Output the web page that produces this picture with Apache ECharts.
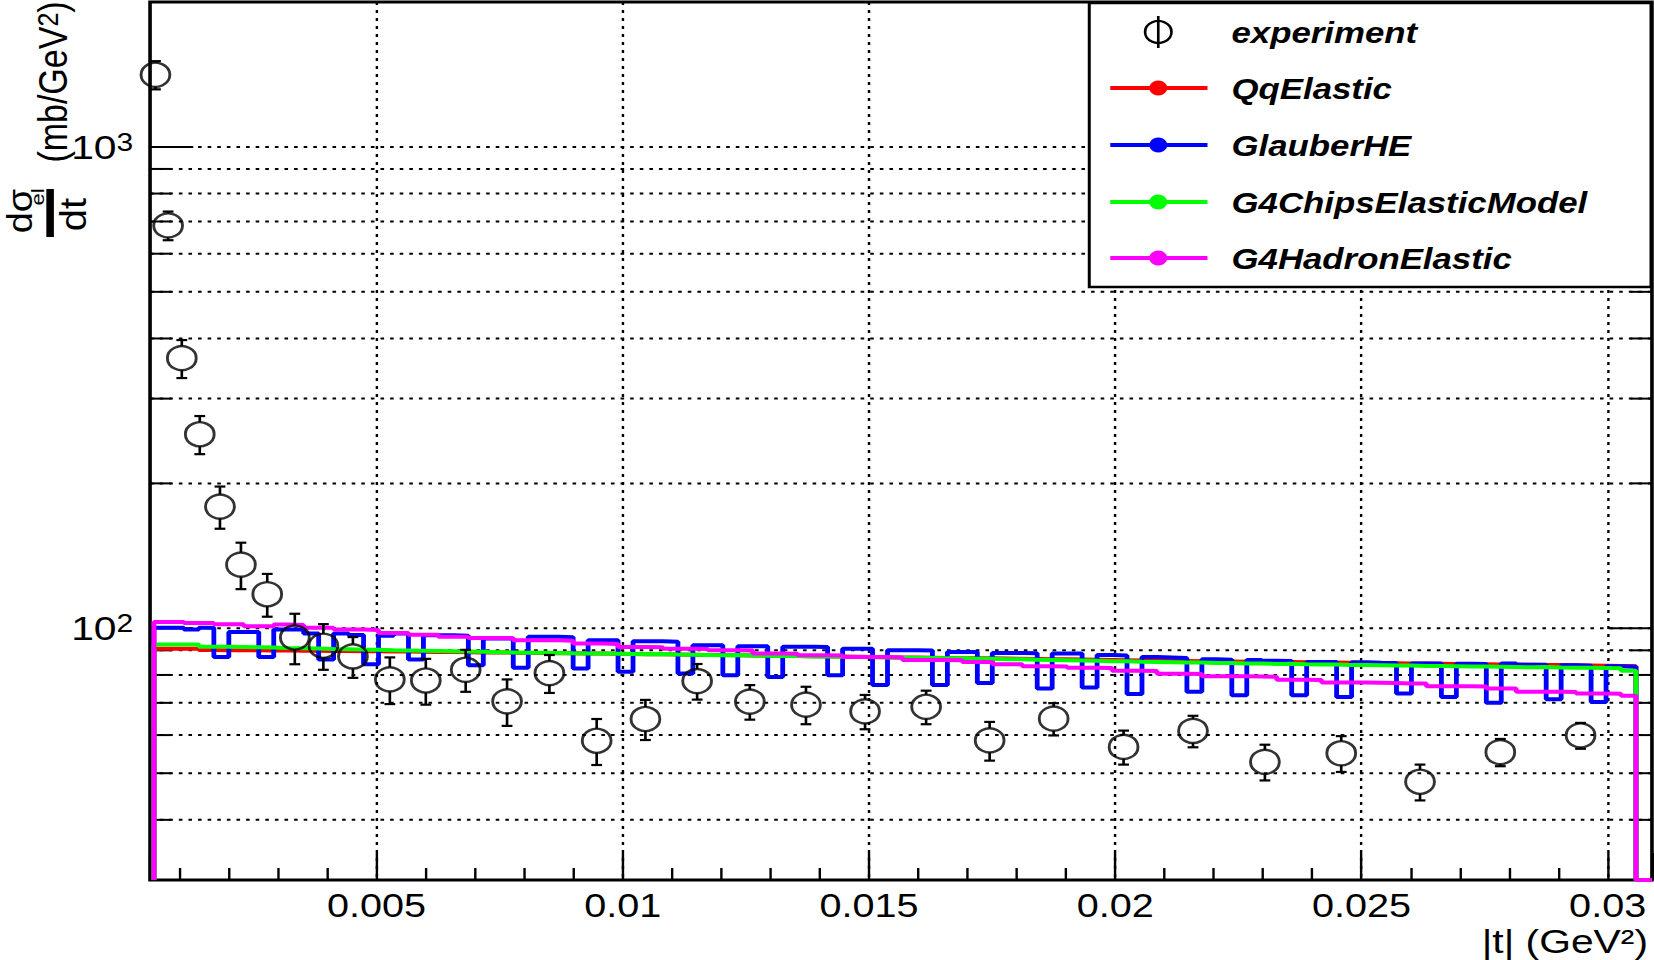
<!DOCTYPE html>
<html>
<head>
<meta charset="utf-8">
<title>Elastic differential cross section</title>
<script src="https://cdn.jsdelivr.net/npm/echarts@6/dist/echarts.min.js"></script>
<style>
  html, body { margin: 0; padding: 0; background: #fff; overflow: hidden; }
  #wrap { width: 1654px; height: 960px; overflow: hidden; }
  /* the canvas is laid out on a narrower sheet and widened, giving the wide ROOT-style glyphs */
  #chart { width: 1420px; height: 960px; transform-origin: 0 0; transform: scaleX(1.20029); }
</style>
</head>
<body>
<div id="wrap"><div id="chart"></div></div>
<script>
// ---- axis ranges ----
const X_MIN = 0.0004, X_MAX = 0.0309;
const Y_MIN = 30, Y_MAX = 2000;

// ---- measured points: |t| (GeV^2), dsigma/dt (mb/GeV^2), error ----
const expT = [0.00051, 0.000767, 0.001045, 0.00141, 0.00182, 0.002246, 0.00278, 0.00334, 0.00392, 0.00452,
              0.00527, 0.0060, 0.00681, 0.00765, 0.00851, 0.00947, 0.01046, 0.01151, 0.01258, 0.01372,
              0.01492, 0.01616, 0.01745, 0.01875, 0.02017, 0.02158, 0.02304, 0.02459, 0.02619, 0.02782, 0.02945];
const expV = [1412, 687, 364, 253, 179, 135.6, 117.7, 95.7, 92.0, 87.4,
              78.3, 77.9, 82.0, 70.5, 80.7, 58.4, 64.8, 77.7, 70.4, 69.4,
              67.2, 68.7, 58.5, 64.9, 56.7, 61.2, 52.8, 55.0, 48.0, 55.3, 59.9];
const expErr = [95, 47, 33, 23, 18, 15, 12, 11.5, 10, 8.5,
                8.7, 8.5, 8.2, 7.8, 7.3, 6.4, 6.2, 6.6, 5.8, 6.2,
                5.5, 5.5, 5.4, 5.0, 4.6, 4.6, 4.5, 4.7, 4.1, 3.6, 3.7];

// ---- simulated histograms: 99 bins of width binWidth starting at histLow ----
const histLow = 0.00048;
const binWidth = 0.000304;

const qqElastic = [
  90.7, 90.7, 90.7, 90.1, 90.0, 90.0, 90.0, 89.9, 89.9, 89.8,
  89.8, 89.7, 89.7, 89.6, 89.6, 89.5, 89.5, 89.4, 89.3, 89.3,
  89.2, 89.1, 89.1, 89.0, 88.9, 88.9, 88.8, 88.7, 88.6, 88.6,
  88.5, 88.4, 88.3, 88.3, 88.2, 88.1, 88.0, 88.0, 87.9, 87.8,
  87.7, 87.7, 87.6, 87.5, 87.4, 87.4, 87.3, 87.2, 87.1, 87.0,
  87.0, 86.9, 86.8, 86.7, 86.7, 86.6, 86.5, 86.4, 86.3, 86.2,
  86.2, 86.1, 86.0, 85.9, 85.8, 85.7, 85.6, 85.5, 85.5, 85.4,
  85.3, 85.3, 85.2, 85.2, 85.1, 85.1, 85.0, 84.9, 84.9, 84.8,
  84.7, 84.7, 84.6, 84.5, 84.5, 84.4, 84.3, 84.3, 84.2, 84.1,
  84.1, 84.0, 83.9, 83.9, 83.8, 83.7, 83.6, 83.5, 83.4];

const glauberHE = [
  100.3, 100.3, 99.4, 100.3, 87.2, 98.3, 98.3, 87.2, 99.4, 99.4,
  97.5, 86.1, 97.5, 96.8, 84.2, 96.5, 97.5, 86.1, 96.7, 96.7,
  96.5, 83.8, 95.2, 95.2, 82.8, 96.0, 96.0, 95.8, 82.5, 94.4,
  94.4, 81.2, 94.0, 94.0, 93.8, 80.6, 92.2, 92.2, 79.9, 91.8,
  91.8, 79.2, 91.5, 91.5, 91.4, 79.9, 90.7, 90.7, 76.2, 90.0,
  90.0, 89.9, 76.2, 89.3, 89.3, 77.0, 88.9, 88.9, 88.8, 75.0,
  88.6, 88.6, 75.3, 88.0, 87.8, 73.0, 87.2, 87.0, 86.8, 73.8,
  86.2, 86.0, 72.6, 85.9, 85.6, 85.5, 72.6, 85.1, 85.1, 72.0,
  85.0, 84.8, 84.7, 73.2, 84.5, 84.5, 72.0, 84.4, 84.3, 70.0,
  84.5, 84.0, 84.0, 71.2, 83.8, 83.6, 70.3, 83.4, 83.2];

const chipsElastic = [
  92.5, 92.5, 92.5, 91.5, 91.5, 91.4, 91.3, 91.2, 91.0, 90.9,
  90.8, 90.6, 90.5, 90.3, 90.2, 90.0, 89.9, 89.8, 89.7, 89.6,
  89.5, 89.4, 89.2, 89.1, 89.0, 89.0, 88.9, 88.7, 88.6, 88.6,
  88.5, 88.4, 88.3, 88.4, 88.2, 88.1, 88.0, 87.9, 88.0, 87.8,
  87.7, 87.6, 87.6, 87.4, 87.4, 87.3, 87.2, 87.2, 87.0, 86.9,
  86.8, 86.8, 86.6, 86.6, 86.4, 86.4, 86.2, 86.2, 86.0, 85.9,
  85.8, 85.7, 85.6, 85.4, 85.4, 85.2, 85.1, 85.0, 84.9, 84.9,
  84.7, 84.7, 84.5, 84.5, 84.3, 84.4, 84.2, 84.1, 84.1, 83.9,
  83.9, 83.8, 83.7, 83.7, 83.5, 83.5, 83.4, 83.3, 83.3, 83.2,
  83.1, 83.0, 83.1, 82.9, 82.8, 82.8, 82.7, 82.6, 81.6];

const hadronElastic = [
  103.1, 103.1, 102.6, 102.6, 102.0, 102.0, 101.0, 101.0, 101.8, 101.6,
  100.3, 100.3, 99.4, 99.4, 99.2, 97.8, 97.8, 97.0, 97.0, 96.0,
  96.0, 95.5, 95.5, 95.4, 94.4, 94.4, 94.4, 94.2, 93.0, 93.0,
  92.8, 91.4, 91.4, 91.3, 90.7, 90.7, 90.6, 90.0, 90.0, 89.9,
  88.6, 88.6, 88.5, 87.9, 87.9, 87.8, 87.2, 87.2, 87.2, 87.0,
  85.9, 85.9, 85.9, 85.8, 85.1, 85.1, 84.2, 84.2, 83.4, 83.4,
  83.3, 82.8, 82.8, 82.7, 81.6, 81.6, 81.5, 80.5, 80.5, 80.4,
  79.5, 79.5, 79.5, 79.4, 79.3, 78.2, 78.2, 78.1, 77.2, 77.2,
  77.2, 77.1, 77.0, 76.8, 76.8, 75.8, 75.8, 75.8, 75.7, 75.0,
  75.0, 73.8, 73.8, 73.8, 73.7, 73.2, 73.2, 73.1, 72.4];

// ---- legend entries and colours ----
const seriesNames = ['experiment', 'QqElastic', 'GlauberHE', 'G4ChipsElasticModel', 'G4HadronElastic'];
const seriesColors = ['#000000', '#ff0000', '#0000ff', '#00ff00', '#ff00ff'];

// ---- grid lines on the log axis, and the decades that carry a label ----
const yGridValues = [40, 50, 60, 70, 80, 90, 100, 200, 300, 400, 500, 600, 700, 800, 900, 1000];
const yDecades = [100, 1000];

const FONT = '"Liberation Sans", Arial, Helvetica, sans-serif';

// histogram outline: rise at the low edge, one level per bin, fall at the high edge
function histOutline(vals) {
  const pts = [[histLow, Y_MIN]];
  vals.forEach((v, i) => pts.push([histLow + i * binWidth, v]));
  const hi = histLow + vals.length * binWidth;
  pts.push([hi, vals[vals.length - 1]]);
  pts.push([hi, Y_MIN]);
  pts.push([X_MAX, Y_MIN]);
  return pts;
}

function histSeries(name, vals, color, z) {
  return {
    name, type: 'line', step: 'end', data: histOutline(vals),
    showSymbol: false, symbol: 'none', z,
    lineStyle: { color, width: 4 }, silent: true
  };
}

// dotted horizontal grid plus inner ticks on both vertical frame edges
function gridRender(params, api) {
  const v = api.value(1);
  const y = api.coord([X_MIN, v])[1];
  const cs = params.coordSys;
  const major = yDecades.indexOf(v) >= 0;
  const tl = major ? 36 : 18;
  const solid = { stroke: '#000', lineWidth: 2 };
  return {
    type: 'group',
    children: [
      { type: 'line', shape: { x1: cs.x, y1: y, x2: cs.x + cs.width, y2: y },
        style: { stroke: '#000', lineWidth: 2, lineDash: [3, 5] } },
      { type: 'line', shape: { x1: cs.x, y1: y, x2: cs.x + tl, y2: y }, style: solid },
      { type: 'line', shape: { x1: cs.x + cs.width - tl, y1: y, x2: cs.x + cs.width, y2: y }, style: solid }
    ]
  };
}

// vertical error bars with end caps, left open inside the marker
const MARK_R = 12;
function errRender(params, api) {
  const t = api.value(0), v = api.value(1), e = api.value(2);
  const c = api.coord([t, v]);
  const hi = api.coord([t, v + e]);
  const lo = api.coord([t, v - e]);
  const cap = 4.5;
  const st = { stroke: '#000', lineWidth: 2.2 };
  const ch = [];
  if (c[1] - hi[1] > MARK_R) {
    ch.push({ type: 'line', shape: { x1: c[0], y1: c[1] - MARK_R, x2: c[0], y2: hi[1] }, style: st });
    ch.push({ type: 'line', shape: { x1: c[0] - cap, y1: hi[1], x2: c[0] + cap, y2: hi[1] }, style: st });
  }
  if (lo[1] - c[1] > MARK_R) {
    ch.push({ type: 'line', shape: { x1: c[0], y1: c[1] + MARK_R, x2: c[0], y2: lo[1] }, style: st });
    ch.push({ type: 'line', shape: { x1: c[0] - cap, y1: lo[1], x2: c[0] + cap, y2: lo[1] }, style: st });
  }
  return { type: 'group', children: ch };
}

// ---- legend box, axis titles ----
const graphics = [];
const LEG = { x0: 907.5, y0: 3, x1: 1375.5, y1: 287, rowY: [32, 88, 145, 202, 258],
              markL: 925, markR: 1006, markC: 965, textX: 1026 };
graphics.push({ type: 'rect', z: 100,
  shape: { x: LEG.x0, y: LEG.y0, width: LEG.x1 - LEG.x0, height: LEG.y1 - LEG.y0 },
  style: { fill: '#fff', stroke: '#000', lineWidth: 2.5 } });
seriesNames.forEach((name, i) => {
  const y = LEG.rowY[i];
  if (i === 0) {
    graphics.push({ type: 'circle', z: 101, shape: { cx: LEG.markC, cy: y, r: 11 },
      style: { fill: 'none', stroke: '#000', lineWidth: 2.2 } });
    graphics.push({ type: 'line', z: 101, shape: { x1: LEG.markC, y1: y - 16, x2: LEG.markC, y2: y + 16 },
      style: { stroke: '#000', lineWidth: 2.2 } });
  } else {
    graphics.push({ type: 'line', z: 101, shape: { x1: LEG.markL, y1: y, x2: LEG.markR, y2: y },
      style: { stroke: seriesColors[i], lineWidth: 4 } });
    graphics.push({ type: 'circle', z: 102, shape: { cx: LEG.markC, cy: y, r: 7.5 },
      style: { fill: seriesColors[i] } });
  }
  graphics.push({ type: 'text', z: 101, x: LEG.textX, y: y + 1,
    style: { text: name, fill: '#000', fontSize: 29, fontWeight: 'bold', fontStyle: 'italic',
             fontFamily: FONT, align: 'left', verticalAlign: 'middle' } });
});

const supRich = (size) => ({ s: { fontSize: size, lineHeight: 16, fontFamily: FONT, fill: '#000', verticalAlign: 'top' } });

// x-axis title
graphics.push({ type: 'text', z: 50, x: 1373, y: 941,
  style: { text: '|t| (GeV\u00b2)', fill: '#000', fontSize: 34, lineHeight: 32, fontFamily: FONT,
           align: 'right', verticalAlign: 'middle' } });

// y-axis title: d sigma_el / dt (mb/GeV^2), reading upward; the fraction glyphs are drawn narrow
const rot = Math.PI / 2;
graphics.push({ type: 'text', z: 50, x: 44, y: 82, rotation: rot,
  style: { text: '(mb/GeV{s|2})', rich: supRich(25), fill: '#000', fontSize: 34, fontFamily: FONT,
           align: 'center', verticalAlign: 'middle' } });
graphics.push({ type: 'text', z: 50, x: 17, y: 211, rotation: rot, scaleY: 0.75,
  style: { text: 'd\u03c3', fill: '#000', fontSize: 38, lineHeight: 26, fontFamily: FONT,
           align: 'center', verticalAlign: 'middle' } });
graphics.push({ type: 'text', z: 50, x: 31.6, y: 197, rotation: rot, scaleY: 0.7,
  style: { text: 'el', fill: '#000', fontSize: 22, lineHeight: 16, fontFamily: FONT,
           align: 'center', verticalAlign: 'middle' } });
graphics.push({ type: 'rect', z: 50, shape: { x: 38.6, y: 189, width: 6.3, height: 48 }, style: { fill: '#000' } });
graphics.push({ type: 'text', z: 50, x: 60.7, y: 214.5, rotation: rot, scaleY: 0.78,
  style: { text: 'dt', fill: '#000', fontSize: 40, lineHeight: 26, fontFamily: FONT,
           align: 'center', verticalAlign: 'middle' } });

const option = {
  animation: false,
  backgroundColor: '#fff',
  grid: { left: 125, right: 43.7, top: 2, bottom: 80, show: true,
          borderColor: '#000', borderWidth: 3, backgroundColor: 'rgba(0,0,0,0)' },
  xAxis: {
    type: 'value', min: X_MIN, max: X_MAX, splitNumber: 6,
    axisLine: { show: false },
    axisTick: { show: true, inside: true, length: 27, lineStyle: { color: '#000', width: 2 } },
    minorTick: { show: true, splitNumber: 5, length: 12, lineStyle: { color: '#000', width: 2 } },
    axisLabel: { show: true, showMinLabel: false, showMaxLabel: false, margin: 9,
                 color: '#000', fontSize: 33, fontFamily: FONT },
    splitLine: { show: true, showMinLine: false, showMaxLine: false,
                 lineStyle: { color: '#000', width: 2, type: [3, 5] } }
  },
  yAxis: {
    type: 'log', logBase: 10, min: Y_MIN, max: Y_MAX,
    axisLine: { show: false }, axisTick: { show: false }, splitLine: { show: false },
    axisLabel: {
      show: true, margin: 14, color: '#000', fontSize: 34, fontFamily: FONT,
      showMinLabel: false, showMaxLabel: false,
      formatter: (v) => {
        const r = Math.round(v);
        const k = yDecades.indexOf(r);
        return k >= 0 ? '10{s|' + Math.round(Math.log10(r)) + '}' : '';
      },
      rich: { s: { fontSize: 25, lineHeight: 16, fontFamily: FONT, color: '#000', verticalAlign: 'top' } }
    }
  },
  graphic: graphics,
  series: [
    { type: 'custom', name: 'grid', z: 1, silent: true, renderItem: gridRender,
      data: yGridValues.map(v => [X_MIN, v]), encode: { x: 0, y: 1 } },
    histSeries(seriesNames[1], qqElastic, seriesColors[1], 3),
    histSeries(seriesNames[2], glauberHE, seriesColors[2], 4),
    histSeries(seriesNames[3], chipsElastic, seriesColors[3], 5),
    histSeries(seriesNames[4], hadronElastic, seriesColors[4], 6),
    { type: 'custom', name: 'experiment errors', z: 10, silent: true, renderItem: errRender,
      data: expT.map((t, i) => [t, expV[i], expErr[i]]), encode: { x: 0, y: 1 } },
    { type: 'scatter', name: seriesNames[0], z: 11, symbol: 'circle', symbolSize: 24,
      data: expT.map((t, i) => [t, expV[i]]),
      itemStyle: { color: 'rgba(0,0,0,0)', borderColor: '#000', borderWidth: 2.4 } }
  ]
};

const chart = echarts.init(document.getElementById('chart'), null, { renderer: 'svg' });
chart.setOption(option);
</script>
</body>
</html>
